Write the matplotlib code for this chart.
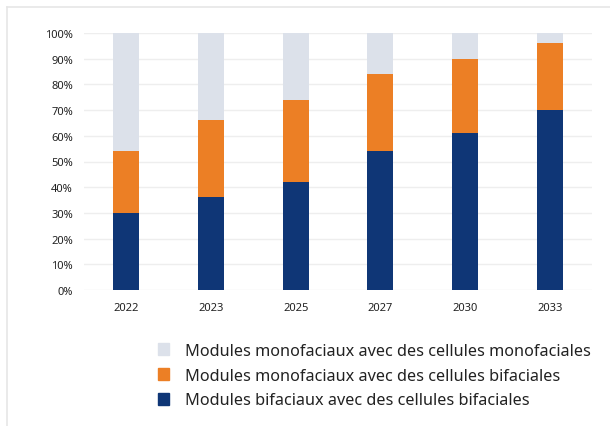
import matplotlib.pyplot as plt
from matplotlib.lines import Line2D
from matplotlib.patches import Patch

plt.rcParams['font.family'] = ['Noto Sans', 'DejaVu Sans']

years = ["2022", "2023", "2025", "2027", "2030", "2033"]
bifacial = [30, 36, 42, 54, 61, 70]
mono_bifacial_cells = [24, 30, 32, 30, 29, 26]
mono_mono_cells = [46, 34, 26, 16, 10, 4]

labels = [
    "Modules monofaciaux avec des cellules monofaciales",
    "Modules monofaciaux avec des cellules bifaciales",
    "Modules bifaciaux avec des cellules bifaciales",
]
colors = ["#dce1ea", "#ec7f25", "#0f3676"]

fig = plt.figure(figsize=(6.1, 4.27), dpi=100)
ax = fig.add_axes([84 / 610, 1 - 291 / 427, 508 / 610, 257 / 427])

x = range(len(years))
w = 0.31
bottom2 = bifacial
bottom3 = [a + b for a, b in zip(bifacial, mono_bifacial_cells)]
ax.bar(x, bifacial, w, color=colors[2], zorder=3)
ax.bar(x, mono_bifacial_cells, w, bottom=bottom2, color=colors[1], zorder=3)
ax.bar(x, mono_mono_cells, w, bottom=bottom3, color=colors[0], zorder=3)

ax.set_xlim(-0.5, len(years) - 0.5)
ax.set_ylim(0, 100)
ax.set_yticks(range(0, 101, 10))
ax.set_yticklabels([f"{v}%" for v in range(0, 101, 10)])
ax.set_xticks(list(x))
ax.set_xticklabels(years)
ax.tick_params(length=0, labelsize=8, colors="#222222")
ax.tick_params(axis="x", pad=9)
ax.tick_params(axis="y", pad=8)
ax.grid(axis="y", color="#eeeeee", linewidth=1, zorder=0)
for s in ax.spines.values():
    s.set_visible(False)

handles = [Patch(color=c) for c in colors]
fig.legend(handles, labels, loc="upper left", bbox_to_anchor=(143 / 610, 1 - 329 / 427),
           frameon=False, fontsize=11.7, handlelength=0.7, handleheight=0.7,
           handletextpad=1.0, labelspacing=0.55, labelcolor="#222222")

# light frame around the image
fig.add_artist(Line2D([7 / 610, 1], [1 - 8 / 427, 1 - 8 / 427], color="#e6e6e6", lw=1.2))
fig.add_artist(Line2D([7 / 610, 7 / 610], [0, 1 - 8 / 427], color="#e6e6e6", lw=1.2))

fig.savefig("out.png", dpi=100)
